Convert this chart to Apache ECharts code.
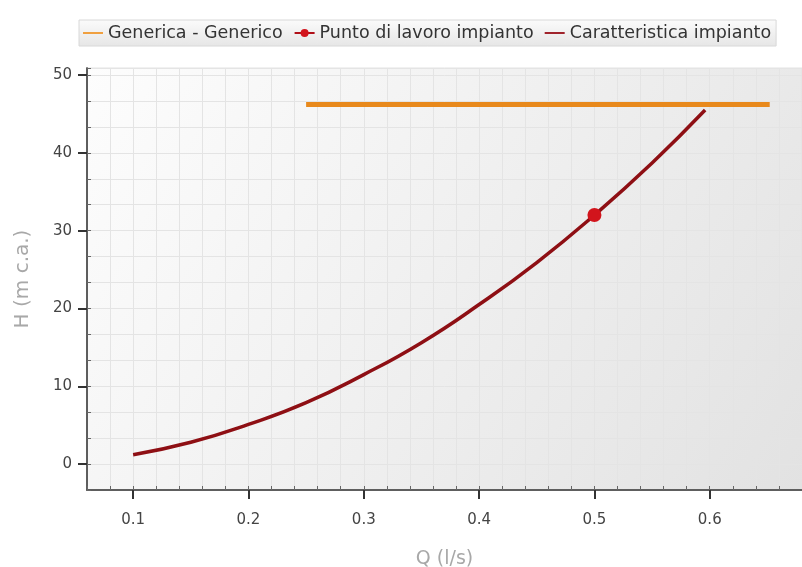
<!DOCTYPE html>
<html><head><meta charset="utf-8">
<script src="https://cdn.jsdelivr.net/npm/echarts@6/dist/echarts.min.js"></script>
<style>html,body{margin:0;padding:0;background:#fff}#c{width:802px;height:567px}</style>
</head><body><div id="c"></div>
<script>
// Data
const xTickLabels = [0.1, 0.2, 0.3, 0.4, 0.5, 0.6];
const yTickLabels = [0, 10, 20, 30, 40, 50];
const genericaQ = [0.25, 0.652];
const genericaH = [46.2, 46.2];
const curveQ = [0.1, 0.15, 0.2, 0.25, 0.3, 0.35, 0.4, 0.45, 0.5, 0.55, 0.596];
const curveH = [1.2, 2.8, 5.1, 7.9, 11.5, 15.6, 20.5, 25.9, 32.0, 38.7, 45.5];
const puntoQ = [0.5];
const puntoH = [32.0];
const seriesNames = ['Generica - Generico', 'Punto di lavoro impianto', 'Caratteristica impianto'];

const FONT = 'DejaVu Sans';
const chart = echarts.init(document.getElementById('c'));
const zip = (a, b) => a.map((v, i) => [v, b[i]]);
const X_MIN = 0.06, X_MAX = 0.68, Y_MIN = -10/3, Y_MAX = 50.9;
const LINE_ICON = 'path://M0,0 L20,0 L20,2 L0,2 Z';

chart.setOption({
  animation: false,
  legend: {
    top: 20, left: 79,
    padding: [4, 5, 4, 4],
    itemGap: 11,
    itemWidth: 20, itemHeight: 10,
    backgroundColor: {type: 'linear', x: 0, y: 0, x2: 0, y2: 1, colorStops: [{offset: 0, color: '#fbfbfb'}, {offset: 1, color: '#e6e6e6'}]},
    borderColor: '#d8d8d8', borderWidth: 1,
    textStyle: {fontFamily: FONT, fontSize: 17.5, color: '#333'},
    data: [
      {name: seriesNames[0], icon: LINE_ICON, itemStyle: {color: '#f0a040'}},
      {name: seriesNames[1]},
      {name: seriesNames[2], icon: LINE_ICON, itemStyle: {color: '#a0242c'}}
    ]
  },
  grid: {
    left: 87, right: 0, top: 68, bottom: 77, show: true,
    outerBoundsMode: 'none', containLabel: false,
    backgroundColor: {type: 'linear', x: 0, y: 0, x2: 1, y2: 1, colorStops: [{offset: 0, color: '#fdfdfd'}, {offset: 1, color: '#e2e2e2'}]},
    borderColor: '#e2e2e2', borderWidth: 1
  },
  xAxis: [{
    type: 'value', min: X_MIN, max: X_MAX, interval: 0.02,
    axisLine: {show: true, onZero: false, lineStyle: {color: '#555', width: 1.5}},
    axisTick: {show: true, inside: true, length: 4, lineStyle: {color: '#666'}},
    axisLabel: {show: false},
    splitLine: {show: true, lineStyle: {color: '#e4e4e4', width: 1}}
  }, {
    type: 'value', min: X_MIN, max: X_MAX, position: 'bottom',
    name: 'Q (l/s)', nameLocation: 'middle', nameGap: 60,
    nameTextStyle: {fontFamily: FONT, fontSize: 19, color: '#a8a8a8'},
    axisLine: {show: true, onZero: false, lineStyle: {color: '#555', width: 1.5}},
    axisTick: {show: true, length: 9, customValues: xTickLabels, lineStyle: {color: '#333', width: 2}},
    axisLabel: {show: true, customValues: xTickLabels, margin: 23, fontFamily: FONT, fontSize: 15, color: '#444', formatter: v => (Math.round(v*10)/10).toFixed(1)},
    splitLine: {show: false}
  }],
  yAxis: [{
    type: 'value', min: Y_MIN, max: Y_MAX, interval: 10/3,
    axisLine: {show: true, onZero: false, lineStyle: {color: '#555', width: 1.5}},
    axisTick: {show: true, inside: true, length: 4, lineStyle: {color: '#666'}},
    axisLabel: {show: false},
    splitLine: {show: true, lineStyle: {color: '#e4e4e4', width: 1}}
  }, {
    type: 'value', min: Y_MIN, max: Y_MAX, position: 'left',
    name: 'H (m c.a.)', nameLocation: 'middle', nameGap: 54, nameRotate: 90,
    nameTextStyle: {fontFamily: FONT, fontSize: 20, color: '#a8a8a8'},
    axisLine: {show: true, onZero: false, lineStyle: {color: '#555', width: 1.5}},
    axisTick: {show: true, length: 9, customValues: yTickLabels, lineStyle: {color: '#333', width: 2}},
    axisLabel: {show: true, customValues: yTickLabels, margin: 15, fontFamily: FONT, fontSize: 15, color: '#444', formatter: v => String(Math.round(v))},
    splitLine: {show: false}
  }],
  series: [{
    name: seriesNames[0], type: 'line', data: zip(genericaQ, genericaH),
    symbol: 'none', color: '#e8891c', lineStyle: {width: 5, color: '#e8891c'}, z: 2
  }, {
    name: seriesNames[1], type: 'line', data: zip(puntoQ, puntoH),
    symbol: 'circle', symbolSize: 14, color: '#d2141c', itemStyle: {color: '#d2141c'}, lineStyle: {color: '#b01018', width: 2}, z: 4
  }, {
    name: seriesNames[2], type: 'line', data: zip(curveQ, curveH), smooth: true,
    symbol: 'none', color: '#8e0f14', lineStyle: {width: 3.5, color: '#8e0f14'}, z: 3
  }]
});
</script></body></html>
